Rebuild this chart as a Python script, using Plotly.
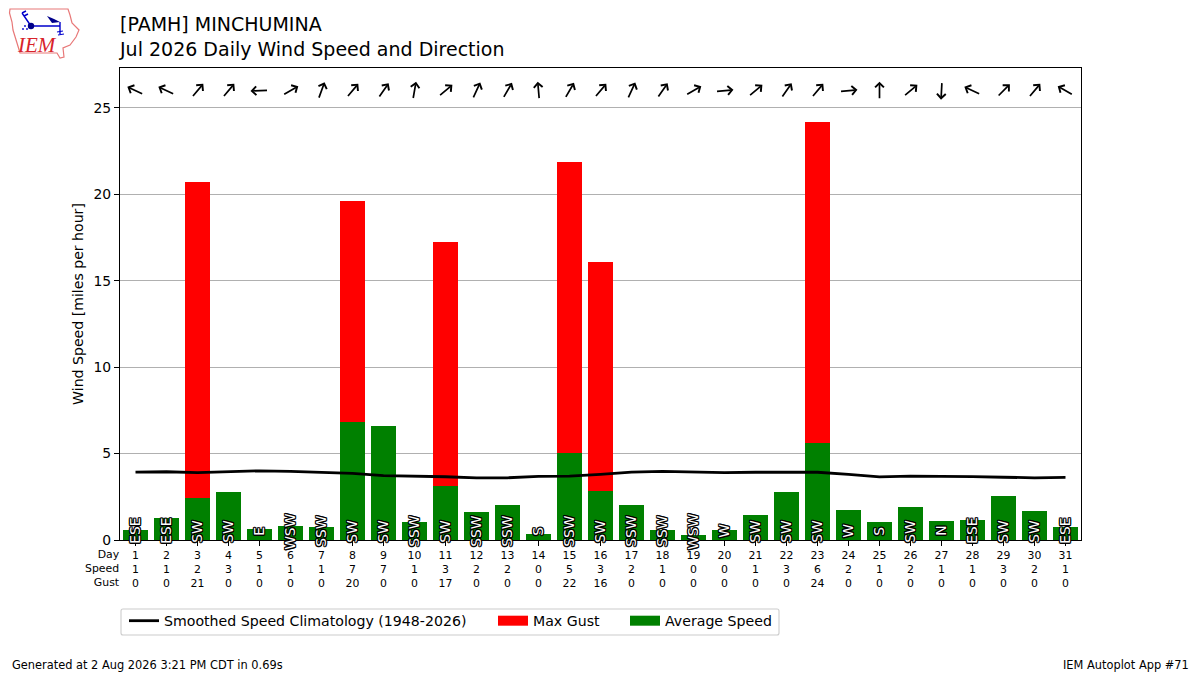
import base64
import math
import plotly.graph_objects as go

days = list(range(1, 32))
avg_speed = [0.55, 1.25, 2.45, 2.75, 0.65, 0.8, 0.75, 6.85, 6.6, 1.05, 3.15, 1.6, 2.0, 0.35, 5.05, 2.85,
             2.0, 0.55, 0.3, 0.55, 1.45, 2.8, 5.6, 1.75, 1.05, 1.9, 1.1, 1.15, 2.55, 1.65, 0.75]
max_gust = [0, 0, 20.7, 0, 0, 0, 0, 19.6, 0, 0, 17.25, 0, 0, 0, 21.9, 16.1,
            0, 0, 0, 0, 0, 0, 24.2, 0, 0, 0, 0, 0, 0, 0, 0]
climatology = [3.93, 3.95, 3.9, 3.95, 4.0, 3.97, 3.9, 3.85, 3.72, 3.7, 3.66, 3.6, 3.6, 3.68, 3.7, 3.8,
               3.93, 3.97, 3.93, 3.9, 3.92, 3.92, 3.92, 3.8, 3.65, 3.7, 3.7, 3.67, 3.63, 3.6, 3.62]
direction_labels = ["ESE", "ESE", "SW", "SW", "E", "WSW", "SSW", "SW", "SW", "SSW", "SW", "SSW", "SSW", "S", "SSW", "SW",
                    "SSW", "SSW", "WSW", "W", "SW", "SW", "SW", "W", "S", "SW", "N", "ESE", "SW", "SW", "ESE"]
# heading the arrow points to, degrees clockwise from north
arrow_headings = [295, 295, 40, 40, 268, 60, 20, 40, 35, 10, 50, 25, 30, 355, 30, 40,
                  25, 35, 60, 85, 50, 35, 40, 85, 0, 50, 183, 295, 45, 40, 300]
speed_labels = ["1", "1", "2", "3", "1", "1", "1", "7", "7", "1", "3", "2", "2", "0", "5", "3",
                "2", "1", "0", "0", "1", "3", "6", "2", "1", "2", "1", "1", "3", "2", "1"]
gust_labels = ["0", "0", "21", "0", "0", "0", "0", "20", "0", "0", "17", "0", "0", "0", "22", "16",
               "0", "0", "0", "0", "0", "0", "24", "0", "0", "0", "0", "0", "0", "0", "0"]
y_ticks = [0, 5, 10, 15, 20, 25]

FONT = "DejaVu Sans"
ARROW_LEN = 18
OUTLINE = ("1.3px 0 0 #000,-1.3px 0 0 #000,0 1.3px 0 #000,0 -1.3px 0 #000,"
           "1px 1px 0 #000,-1px -1px 0 #000,1px -1px 0 #000,-1px 1px 0 #000")

# the page body has an 8px margin, so the figure starts at (8, 8) in the window
PAGE = 8
# plot box in window pixels
LEFT, RIGHT, TOP, BOTTOM = 120, 1081, 68, 540


def px(x):
    return (x - LEFT) / (RIGHT - LEFT)


def py(y):
    return (BOTTOM - y) / (BOTTOM - TOP)


fig = go.Figure()

# bars first, gust behind the average
fig.add_trace(go.Bar(x=days, y=max_gust, width=0.8, marker=dict(color="#ff0000", line_width=0), showlegend=False))
fig.add_trace(go.Bar(x=days, y=avg_speed, width=0.8, marker=dict(color="#008000", line_width=0), showlegend=False))
fig.add_trace(go.Scatter(x=days, y=climatology, mode="lines", line=dict(color="black", width=2.8),
                         name="Smoothed Speed Climatology (1948-2026)", legend="legend"))
# legend swatches only, plotly's bar swatch is too small
fig.add_trace(go.Scatter(x=[None], y=[None], mode="lines", line=dict(color="#ff0000", width=10),
                         name="Max Gust", legend="legend2"))
fig.add_trace(go.Scatter(x=[None], y=[None], mode="lines", line=dict(color="#008000", width=10),
                         name="Average Speed", legend="legend3"))

annotations = []
for day, label, heading in zip(days, direction_labels, arrow_headings):
    annotations.append(dict(x=day, y=0.5, xref="x", yref="y", text=label, showarrow=False, textangle=-90,
                            opacity=0.99,
                            font=dict(family=FONT, size=13.9, color="white", shadow=OUTLINE)))
    dx = math.sin(math.radians(heading))
    dy = math.cos(math.radians(heading))
    annotations.append(dict(x=day, y=26.0, xref="x", yref="y", text="", showarrow=True, arrowhead=4,
                            arrowsize=1, arrowwidth=1.7, arrowcolor="black",
                            ax=-ARROW_LEN * dx, ay=ARROW_LEN * dy,
                            xshift=ARROW_LEN / 2 * dx, yshift=ARROW_LEN / 2 * dy))

annotations.append(dict(x=px(122), y=py(568.5), xref="paper", yref="paper", xanchor="right", yanchor="middle",
                        text="Day<br>Speed<br>Gust", align="right", showarrow=False,
                        font=dict(family=FONT, size=10.9, color="black")))
annotations.append(dict(x=px(10), y=py(665), xref="paper", yref="paper", xanchor="left", yanchor="middle",
                        text="Generated at 2 Aug 2026 3:21 PM CDT in 0.69s", showarrow=False,
                        font=dict(family=FONT, size=11.4, color="black")))
annotations.append(dict(x=px(1191), y=py(665), xref="paper", yref="paper", xanchor="right", yanchor="middle",
                        text="IEM Autoplot App #71", showarrow=False,
                        font=dict(family=FONT, size=11.4, color="black")))
annotations.append(dict(x=px(37), y=py(45), xref="paper", yref="paper", xanchor="center", yanchor="middle",
                        text="<i>IEM</i>", showarrow=False,
                        font=dict(family="Liberation Serif", size=21, color="#d8232a")))

# IEM logo, state outline and the little wind station, viewBox in window pixels
logo_svg = """<svg xmlns="http://www.w3.org/2000/svg" viewBox="8 8 80 56" width="320" height="224">
<path d="M10,9 L68,9 L70,15 L72,23 L79,30 L76,37 L70,45 L63,48 L64,57 L60,58 L57,53 L20,53 L17,43 L13,30 L12,22 L9.5,13 Z"
 fill="#fff" stroke="#e87878" stroke-width="1.2"/>
<path d="M31,26 H60 M60,22 V34 M31,26 L22,13 M22,13 L26,11 M24,16 L28,14" stroke="#0000cc" stroke-width="1.4" fill="none"/>
<circle cx="31" cy="26" r="3.2" fill="#00008b"/>
<path d="M47,16 L54,19 L60,22 L52,23 Z" fill="#00008b"/>
<path d="M57,32 L63,31 M58,35 L64,34" stroke="#0000cc" stroke-width="1.2"/>
<circle cx="25" cy="26" r="0.9" fill="#0000cc"/><circle cx="23" cy="29" r="0.9" fill="#0000cc"/><circle cx="27" cy="29" r="0.9" fill="#0000cc"/>
</svg>"""
logo_uri = "data:image/svg+xml;base64," + base64.b64encode(logo_svg.encode()).decode()

fig.update_layout(
    width=1200 - PAGE,
    height=675 - PAGE,
    autosize=False,
    margin=dict(l=LEFT - PAGE, r=1200 - RIGHT, t=TOP - PAGE, b=675 - BOTTOM, autoexpand=False),
    paper_bgcolor="white",
    plot_bgcolor="white",
    barmode="overlay",
    bargap=0,
    font=dict(family=FONT, size=13.9, color="black"),
    title=dict(text="[PAMH] MINCHUMINA<br>Jul 2026 Daily Wind Speed and Direction", x=(120 - PAGE) / (1200 - PAGE),
               xref="container", xanchor="left", y=1 - 23 / (675 - PAGE), yref="container", yanchor="top",
               font=dict(family=FONT, size=19, color="black")),
    xaxis=dict(range=[0.5, 31.5], tickmode="array", tickvals=days,
               ticktext=[f"{d}<br>{s}<br>{g}" for d, s, g in zip(days, speed_labels, gust_labels)],
               tickangle=0, ticks="outside", ticklen=5, tickwidth=1.1, tickcolor="black",
               tickfont=dict(family=FONT, size=10.9), showgrid=False, zeroline=False,
               showline=True, mirror=True, linecolor="black", linewidth=1.1),
    yaxis=dict(range=[0, 27.31], tickmode="array", tickvals=y_ticks, ticks="outside", ticklen=5, tickwidth=1.1,
               tickcolor="black", tickfont=dict(family=FONT, size=13.9), showgrid=True, gridcolor="#b0b0b0",
               gridwidth=1.1, zeroline=False, showline=True, mirror=True, linecolor="black", linewidth=1.1,
               title=dict(text="Wind Speed [miles per hour]", font=dict(family=FONT, size=14.1), standoff=6)),
    legend=dict(x=px(124), y=py(621), xanchor="left", yanchor="middle", orientation="h", bgcolor="rgba(0,0,0,0)",
                font=dict(family=FONT, size=14.15)),
    legend2=dict(x=px(493), y=py(621), xanchor="left", yanchor="middle", orientation="h", bgcolor="rgba(0,0,0,0)",
                 font=dict(family=FONT, size=14.15)),
    legend3=dict(x=px(625), y=py(621), xanchor="left", yanchor="middle", orientation="h", bgcolor="rgba(0,0,0,0)",
                 font=dict(family=FONT, size=14.15)),
    annotations=annotations,
    images=[dict(source=logo_uri, xref="paper", yref="paper", x=px(8), y=py(8), sizex=80 / (RIGHT - LEFT),
                 sizey=56 / (BOTTOM - TOP), xanchor="left", yanchor="top", sizing="stretch", layer="above")],
    shapes=[dict(type="path", xref="paper", yref="paper",
                 path=f"M{px(123)},{py(609)} L{px(777)},{py(609)} Q{px(779)},{py(609)} {px(779)},{py(611)} "
                      f"L{px(779)},{py(633)} Q{px(779)},{py(635)} {px(777)},{py(635)} L{px(123)},{py(635)} "
                      f"Q{px(121)},{py(635)} {px(121)},{py(633)} L{px(121)},{py(611)} Q{px(121)},{py(609)} {px(123)},{py(609)} Z",
                 line=dict(color="#cccccc", width=1.1), fillcolor="white", layer="below")],
)

fig.write_html("out.html")
